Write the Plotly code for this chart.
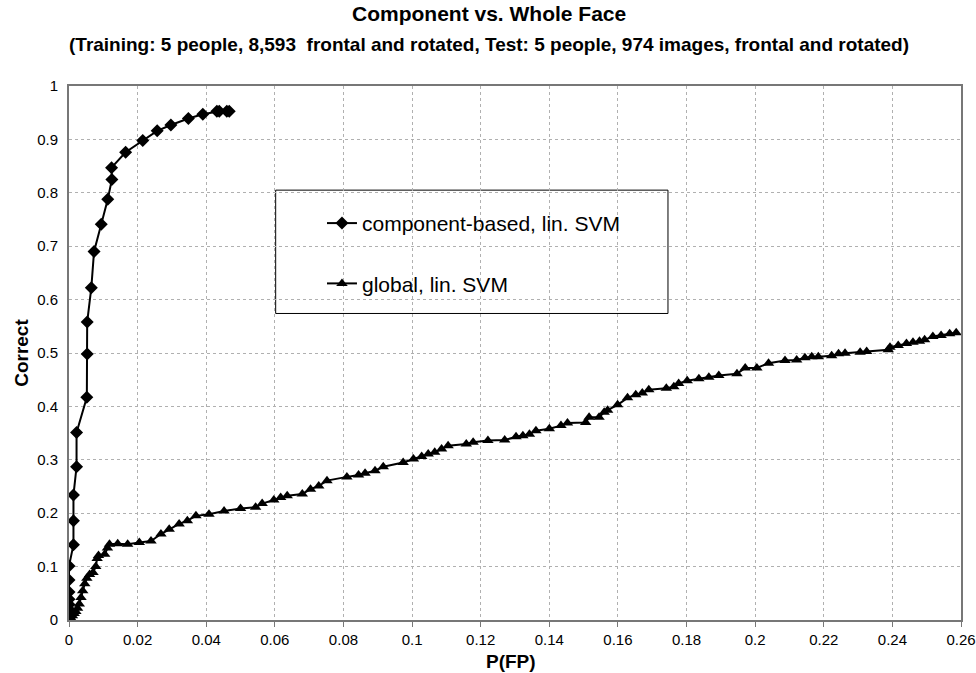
import plotly.graph_objects as go

# ---- data ----
comp_x = [0, 0, 0, 0, 0, 0, 0, 0, 0.0013, 0.0013, 0.0013, 0.0022, 0.0022, 0.0052, 0.0053,
          0.0053, 0.0065, 0.0073, 0.0094, 0.0113, 0.0125, 0.0124, 0.0165, 0.0215, 0.0257,
          0.0297, 0.0348, 0.039, 0.0431, 0.0438, 0.046, 0.0467]
comp_y = [0.003, 0.011, 0.02, 0.029, 0.039, 0.0525, 0.075, 0.101, 0.141, 0.186, 0.234,
          0.287, 0.351, 0.417, 0.498, 0.558, 0.622, 0.690, 0.741, 0.788, 0.825, 0.847,
          0.876, 0.898, 0.916, 0.927, 0.939, 0.947, 0.9525, 0.9525, 0.9525, 0.9525]

glob_x = [0, 0.0005, 0.001, 0.0015, 0.002, 0.0025, 0.003, 0.0035, 0.004, 0.0046, 0.0052,
          0.006, 0.007, 0.0078, 0.0082, 0.0086, 0.0104, 0.0112, 0.0118, 0.0142, 0.0171,
          0.0205, 0.0239, 0.0268, 0.0292, 0.0321, 0.0345, 0.037, 0.0408, 0.0452, 0.050,
          0.0544, 0.0563, 0.0597, 0.0617, 0.0636, 0.068, 0.0704, 0.0728, 0.0752, 0.081,
          0.0844, 0.0863, 0.0892, 0.0916, 0.0974, 0.1004, 0.1028, 0.1047, 0.1066, 0.1086,
          0.1105, 0.1158, 0.1178, 0.1221, 0.127, 0.1303, 0.1323, 0.1342, 0.1361, 0.14,
          0.1434, 0.1453, 0.1506, 0.1516, 0.1545, 0.156, 0.157, 0.1599, 0.1628, 0.1652,
          0.1671, 0.169, 0.1741, 0.1763, 0.1777, 0.1802, 0.1836, 0.1865, 0.1894, 0.1947,
          0.1971, 0.2005, 0.2039, 0.2087, 0.2121, 0.2145, 0.2165, 0.2184, 0.2223, 0.2243,
          0.2262, 0.2306, 0.2325, 0.2388, 0.2393, 0.2417, 0.2441, 0.246, 0.2479, 0.2494,
          0.2518, 0.2542, 0.2567, 0.2586]
glob_y = [0, 0.004, 0.008, 0.012, 0.016, 0.022, 0.03, 0.042, 0.055, 0.068, 0.078,
          0.085, 0.089, 0.1, 0.115, 0.121, 0.123, 0.135, 0.142, 0.143, 0.142,
          0.145, 0.148, 0.161, 0.170, 0.180, 0.186, 0.195, 0.198, 0.204, 0.209,
          0.211, 0.218, 0.2245, 0.2295, 0.2326, 0.236, 0.245, 0.251, 0.261, 0.268,
          0.2715, 0.275, 0.2795, 0.287, 0.295, 0.3015, 0.306, 0.311, 0.314, 0.320,
          0.3265, 0.3296, 0.3327, 0.336, 0.337, 0.343, 0.345, 0.348, 0.3546, 0.358,
          0.364, 0.369, 0.370, 0.3796, 0.3796, 0.389, 0.393, 0.403, 0.416, 0.422,
          0.425, 0.431, 0.434, 0.437, 0.443, 0.448, 0.4516, 0.4546, 0.458, 0.461,
          0.472, 0.472, 0.481, 0.486, 0.487, 0.491, 0.493, 0.493, 0.495, 0.4985,
          0.4996, 0.5015, 0.503, 0.506, 0.511, 0.514, 0.518, 0.520, 0.522, 0.5246,
          0.531, 0.533, 0.536, 0.538]

x_ticks = [0, 0.02, 0.04, 0.06, 0.08, 0.1, 0.12, 0.14, 0.16, 0.18, 0.2, 0.22, 0.24, 0.26]
x_tick_labels = ["0", "0.02", "0.04", "0.06", "0.08", "0.1", "0.12", "0.14", "0.16",
                 "0.18", "0.2", "0.22", "0.24", "0.26"]
y_ticks = [0, 0.1, 0.2, 0.3, 0.4, 0.5, 0.6, 0.7, 0.8, 0.9, 1]
y_tick_labels = ["0", "0.1", "0.2", "0.3", "0.4", "0.5", "0.6", "0.7", "0.8", "0.9", "1"]

series_names = ["component-based, lin. SVM", "global, lin. SVM"]
title_text = "Component vs. Whole Face"
subtitle_text = "(Training: 5 people, 8,593  frontal and rotated, Test: 5 people, 974 images, frontal and rotated)"
x_title = "P(FP)"
y_title = "Correct"

FONT = "Liberation Sans, Arial, sans-serif"

fig = go.Figure()
fig.add_trace(go.Scatter(
    x=comp_x, y=comp_y, mode="lines+markers", name=series_names[0], legendgroup="a",
    line=dict(color="black", width=2),
    marker=dict(symbol="diamond", size=10, color="black"),
))
fig.add_trace(go.Scatter(
    x=glob_x, y=glob_y, mode="lines+markers", name=series_names[1], legendgroup="b",
    line=dict(color="black", width=2),
    marker=dict(symbol="triangle-up", size=10, color="black"),
))

fig.update_layout(
    width=976, height=673,
    margin=dict(l=69, r=15, t=86, b=53, autoexpand=False),
    paper_bgcolor="white", plot_bgcolor="white",
    font=dict(family=FONT, color="black"),
    showlegend=True,
    legend=dict(
        x=0.2836, y=0.781, xanchor="left", yanchor="top",
        bgcolor="rgba(0,0,0,0)", borderwidth=0,
        font=dict(size=21, family=FONT, color="black"),
        tracegroupgap=30, itemwidth=30,
    ),
    shapes=[dict(
        type="rect", xref="paper", yref="paper",
        x0=0.2317, x1=0.6715, y0=0.574, y1=0.805,
        line=dict(color="black", width=1), fillcolor="white", layer="between",
    )],
    annotations=[
        dict(text="<b>" + title_text + "</b>", xref="paper", yref="paper",
             x=0.471, y=1.135, xanchor="center", yanchor="middle", showarrow=False,
             font=dict(size=21, family=FONT, color="black")),
        dict(text="<b>" + subtitle_text + "</b>", xref="paper", yref="paper",
             x=0.471, y=1.077, xanchor="center", yanchor="middle", showarrow=False,
             font=dict(size=19, family=FONT, color="black")),
        dict(text="<b>" + x_title + "</b>", xref="paper", yref="paper",
             x=0.496, y=-0.077, xanchor="center", yanchor="middle", showarrow=False,
             font=dict(size=19, family=FONT, color="black")),
        dict(text="<b>" + y_title + "</b>", xref="paper", yref="paper",
             x=-0.054, y=0.5, xanchor="center", yanchor="middle", showarrow=False,
             textangle=-90, font=dict(size=19, family=FONT, color="black")),
    ],
)

fig.update_xaxes(
    range=[0, 0.26], tickvals=x_ticks, ticktext=x_tick_labels,
    showgrid=True, gridcolor="#b0b0b0", griddash="dot", gridwidth=1,
    showline=True, linecolor="#777", linewidth=2, mirror=True,
    ticks="outside", ticklen=5, tickcolor="#777",
    tickfont=dict(size=15, family=FONT, color="black"),
    zeroline=False, automargin=False,
)
fig.update_yaxes(
    range=[0, 1], tickvals=y_ticks, ticktext=y_tick_labels,
    showgrid=True, gridcolor="#b0b0b0", griddash="dot", gridwidth=1,
    showline=True, linecolor="#777", linewidth=2, mirror=True,
    ticks="", ticklen=0, ticklabelstandoff=6,
    tickfont=dict(size=15, family=FONT, color="black"),
    zeroline=False, automargin=False,
)

fig.write_html("out.html", config={"displayModeBar": False},
               post_script="document.body.style.margin='0';document.body.style.overflow='hidden';")
